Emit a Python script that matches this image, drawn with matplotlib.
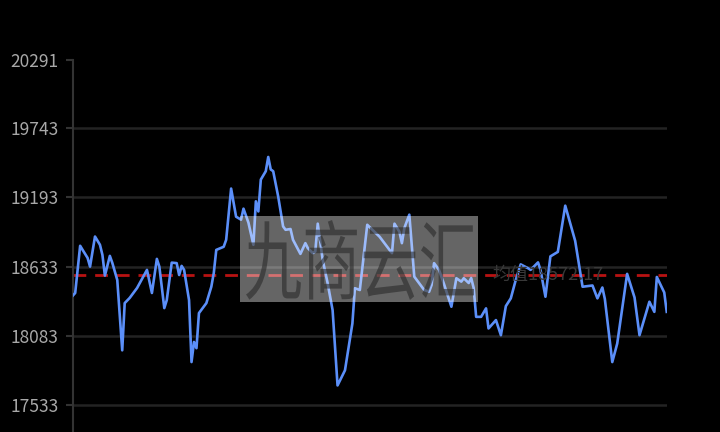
import matplotlib.pyplot as plt
from matplotlib.transforms import blended_transform_factory, Affine2D, IdentityTransform
from matplotlib.textpath import TextPath
from matplotlib.font_manager import FontProperties
from matplotlib.patches import PathPatch

plt.rcParams['font.family'] = ['Noto Sans CJK SC', 'DejaVu Sans']

# trading day index and price
days = [0, 1, 3, 4, 6, 7, 9, 11, 12, 13, 15, 16, 18, 20, 21, 23, 26, 30, 32, 34,
        35, 37, 38, 40, 42, 43, 44, 45, 47, 48, 49, 50, 51, 54, 56, 57, 58, 61, 62, 64,
        66, 68, 69, 71, 73, 74, 75, 76, 78, 79, 80, 81, 83, 85, 86, 88, 89, 92, 94, 95,
        97, 98, 99, 101, 103, 105, 107, 110, 113, 114, 116, 119, 124, 129, 130, 132, 133, 134, 136, 138,
        142, 144, 145, 146, 148, 150, 153, 155, 157, 158, 160, 161, 162, 163, 165, 167, 168, 171, 173, 175,
        177, 179, 181, 184, 185, 188, 189, 191, 193, 196, 199, 203, 206, 210, 212, 214, 215, 218, 220, 224,
        227, 229, 233, 235, 236, 239, 240]
prices = [18404, 18426, 18804, 18771, 18707, 18637, 18878, 18812, 18731, 18565,
          18723, 18667, 18530, 17967, 18345, 18386, 18466, 18611, 18426, 18699,
          18637, 18305, 18369, 18669, 18665, 18570, 18643, 18611, 18369, 17873,
          18034, 17984, 18265, 18345, 18476, 18587, 18771, 18796, 18852, 19262,
          19037, 19013, 19101, 18989, 18812, 19160, 19079, 19334, 19401, 19515,
          19415, 19401, 19200, 18959, 18932, 18938, 18852, 18739, 18825, 18785,
          18745, 18758, 18981, 18691, 18504, 18289, 17686, 17807, 18182, 18464,
          18450, 18972, 18876, 18745, 18981, 18916, 18825, 18946, 19053, 18557,
          18450, 18436, 18490, 18665, 18611, 18498, 18316, 18544, 18517, 18544,
          18506, 18546, 18466, 18235, 18235, 18303, 18142, 18209, 18088, 18321,
          18383, 18530, 18655, 18624, 18611, 18671, 18611, 18396, 18719, 18755,
          19125, 18844, 18476, 18486, 18383, 18470, 18378, 17873, 18021, 18579,
          18390, 18088, 18356, 18275, 18554, 18430, 18275]

mean_value = 18572.17
mean_label = '均值18572.17'
watermark = '九商云汇'
ytick_values = [17533, 18083, 18633, 19193, 19743, 20291]

fig = plt.figure(figsize=(7.2, 4.32), dpi=100, facecolor='black')
ax = fig.add_axes([0.101, 0.0, 0.825, 0.861])
ax.set_facecolor('black')

ax.plot(days, prices, color='#5b8ff9', lw=1.9, zorder=3)
ax.axhline(mean_value, color='#b81212', lw=2, ls=(0, (4.6, 3.2)), zorder=2)

ax.set_xlim(0, 240)
ax.set_ylim(17313, 20291)
ax.set_yticks(ytick_values)
ax.set_yticklabels([str(v) for v in ytick_values])
ax.tick_params(axis='y', colors='#333333', labelcolor='#a8a8a8', labelsize=12.5,
               length=5, width=1.5, pad=5)
ax.tick_params(axis='x', bottom=False, labelbottom=False)
ax.grid(axis='y', color='#232323', lw=1.8)
ax.get_ygridlines()[-1].set_visible(False)
ax.set_axisbelow(True)

for s in ['top', 'right', 'bottom']:
    ax.spines[s].set_visible(False)
ax.spines['left'].set_color('#333333')
ax.spines['left'].set_linewidth(1.5)

# mean value label
tr = blended_transform_factory(ax.transAxes, ax.transData)
ax.text(0.707, mean_value, mean_label, transform=tr, color='#383838',
        fontsize=13, va='center', ha='left', zorder=4)

# watermark box
fig.patches.append(plt.Rectangle((240 / 720, 1 - 302 / 432), 238 / 720, 86 / 432,
                                 transform=fig.transFigure, facecolor='white',
                                 alpha=0.4, edgecolor='none', zorder=5))

# watermark text, squeezed into the box (pixel coordinates)
tp = TextPath((0, 0), watermark, size=60, prop=FontProperties(family='Noto Sans CJK SC'))
bb = tp.get_extents()
sx = 228 / bb.width
sy = 80 / bb.height
fit = (Affine2D().translate(-bb.x0, -bb.y0).scale(sx, sy)
       .translate(246, 432 - 302 + 2))
wm = PathPatch(fit.transform_path(tp), transform=IdentityTransform(),
               facecolor='#2a2a2a', edgecolor='none', alpha=0.6, zorder=6)
fig.patches.append(wm)

fig.savefig('out.png', dpi=100, facecolor='black')
